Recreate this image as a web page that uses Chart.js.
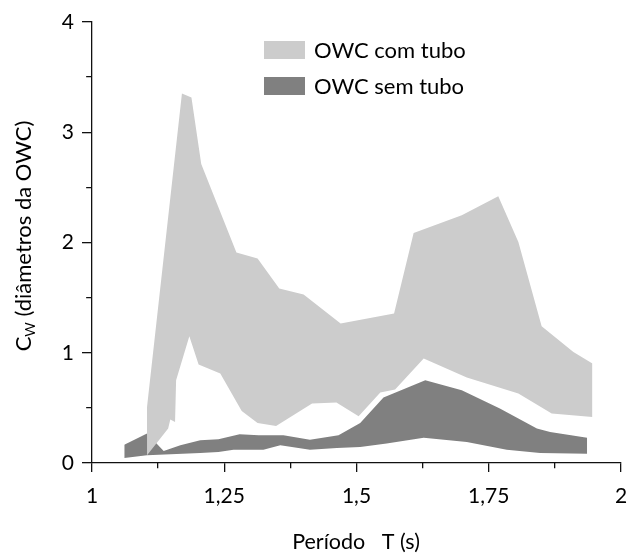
<!DOCTYPE html>
<html lang="pt">
<head>
<meta charset="utf-8">
<title>Comprimento de captura</title>
<script src="https://cdn.jsdelivr.net/npm/chart.js@4.4.1/dist/chart.umd.min.js"></script>
<style>
  html, body { margin: 0; padding: 0; background: #ffffff; }
  #wrap { width: 627px; height: 553px; }
</style>
</head>
<body>
<div id="wrap"><canvas id="chart" width="627" height="553"></canvas></div>
<script>
// Período T (s) e C_W (diâmetros da OWC) — limites de cada faixa
const periodoComSup = [1.104, 1.170, 1.188, 1.2065, 1.273, 1.313, 1.354, 1.400, 1.470, 1.571, 1.608, 1.699, 1.768, 1.806, 1.850, 1.910, 1.946];
const cwComSup      = [0.508, 3.352, 3.316, 2.711, 1.910, 1.855, 1.583, 1.528, 1.265, 1.356, 2.087, 2.248, 2.420, 2.005, 1.240, 1.007, 0.902];

const periodoComInf = [1.104, 1.144, 1.148, 1.157, 1.159, 1.184, 1.2015, 1.2425, 1.283, 1.313, 1.348, 1.416, 1.462, 1.504, 1.545, 1.573, 1.627, 1.7085, 1.806, 1.869, 1.946];
const cwComInf      = [0.070, 0.312, 0.394, 0.372, 0.750, 1.150, 0.893, 0.811, 0.472, 0.363, 0.336, 0.539, 0.548, 0.424, 0.639, 0.666, 0.947, 0.775, 0.630, 0.448, 0.417];

const periodoSemSup = [1.061, 1.104, 1.1355, 1.167, 1.2046, 1.239, 1.279, 1.315, 1.362, 1.412, 1.466, 1.507, 1.551, 1.630, 1.699, 1.771, 1.841, 1.866, 1.936];
const cwSemSup      = [0.165, 0.267, 0.109, 0.161, 0.206, 0.215, 0.260, 0.251, 0.251, 0.212, 0.251, 0.363, 0.593, 0.750, 0.660, 0.494, 0.312, 0.281, 0.230];

const periodoSemInf = [1.061, 1.104, 1.2046, 1.239, 1.2675, 1.324, 1.356, 1.412, 1.463, 1.507, 1.557, 1.627, 1.7085, 1.784, 1.847, 1.936];
const cwSemInf      = [0.045, 0.070, 0.091, 0.100, 0.121, 0.121, 0.161, 0.121, 0.136, 0.145, 0.176, 0.230, 0.190, 0.121, 0.091, 0.085];

const seriesLabels = ['OWC com tubo', 'OWC sem tubo'];
const xTicks = [1, 1.25, 1.5, 1.75, 2];
const xMinorTicks = [1.125, 1.375, 1.625, 1.875];
const yTicks = [0, 1, 2, 3, 4];
const yMinorTicks = [0.5, 1.5, 2.5, 3.5];

const COR_COM = '#cccccc';
const COR_SEM = '#808080';
const AXIS_COLOR = '#111111';
const AXIS_WIDTH = 1.3;
const FONT = 'Lato, "Open Sans", sans-serif';

const pts = (xs, ys) => xs.map((v, i) => ({ x: v, y: ys[i] }));

const edge = {
  type: 'line',
  borderWidth: 0,
  borderColor: 'rgba(0,0,0,0)',
  pointRadius: 0,
  pointHoverRadius: 0,
  tension: 0
};

// Minor ticks, axis titles (with subscript) and the legend box
const extras = {
  id: 'extras',
  afterDraw(chart) {
    const { ctx, chartArea, scales: { x, y } } = chart;
    ctx.save();
    ctx.strokeStyle = AXIS_COLOR;
    ctx.lineWidth = AXIS_WIDTH;
    const axisY = Math.round(chartArea.bottom - AXIS_WIDTH / 2) + AXIS_WIDTH / 2;
    const axisX = Math.round(chartArea.left - AXIS_WIDTH / 2) + AXIS_WIDTH / 2;
    ctx.beginPath();
    xMinorTicks.forEach(v => {
      const px = Math.round(x.getPixelForValue(v) - AXIS_WIDTH / 2) + AXIS_WIDTH / 2;
      ctx.moveTo(px, axisY);
      ctx.lineTo(px, axisY + 5.5);
    });
    yMinorTicks.forEach(v => {
      const py = Math.round(y.getPixelForValue(v) - AXIS_WIDTH / 2) + AXIS_WIDTH / 2;
      ctx.moveTo(axisX, py);
      ctx.lineTo(axisX - 5.5, py);
    });
    ctx.stroke();

    ctx.fillStyle = '#000000';
    ctx.textBaseline = 'alphabetic';

    // x axis title
    ctx.font = '21.5px ' + FONT;
    ctx.textAlign = 'center';
    ctx.fillText('Período   T (s)', (chartArea.left + chartArea.right) / 2 - 0.5, 549);

    // y axis title: C with subscript W
    const big = '22px ' + FONT;
    const small = '14px ' + FONT;
    const rest = ' (diâmetros da OWC)';
    ctx.font = big;
    const wC = ctx.measureText('C').width;
    const wRest = ctx.measureText(rest).width;
    ctx.font = small;
    const wW = ctx.measureText('W').width;
    const total = wC + wW + wRest;
    ctx.translate(31, 236);
    ctx.rotate(-Math.PI / 2);
    ctx.textAlign = 'left';
    let cx = -total / 2;
    ctx.font = big;
    ctx.fillText('C', cx, 0);
    cx += wC;
    ctx.font = small;
    ctx.fillText('W', cx, 4);
    cx += wW;
    ctx.font = big;
    ctx.fillText(rest, cx, 0);
    ctx.setTransform(1, 0, 0, 1, 0, 0);

    // legend
    const entries = chart.data.datasets.filter(d => d.label);
    ctx.font = '22px ' + FONT;
    ctx.textAlign = 'left';
    ctx.textBaseline = 'middle';
    entries.forEach((d, i) => {
      const cy = 50 + i * 36;
      ctx.fillStyle = d.backgroundColor;
      ctx.fillRect(264, cy - 9, 41, 18);
      ctx.fillStyle = '#000000';
      ctx.fillText(d.label, 314, cy + 1);
    });
    ctx.restore();
  }
};

const fmt = v => String(v).replace('.', ',');

new Chart(document.getElementById('chart'), {
  type: 'line',
  data: {
    datasets: [
      { ...edge, data: pts(periodoComSup, cwComSup), fill: false },
      { ...edge, label: seriesLabels[0], data: pts(periodoComInf, cwComInf), fill: 0, backgroundColor: COR_COM },
      { ...edge, data: pts(periodoSemSup, cwSemSup), fill: false },
      { ...edge, label: seriesLabels[1], data: pts(periodoSemInf, cwSemInf), fill: 2, backgroundColor: COR_SEM }
    ]
  },
  options: {
    responsive: false,
    animation: false,
    events: [],
    layout: { padding: { top: 22, right: 6, bottom: 0, left: 0 } },
    plugins: { legend: { display: false }, tooltip: { enabled: false } },
    scales: {
      x: {
        type: 'linear',
        min: 1,
        max: 2,
        afterBuildTicks: s => { s.ticks = xTicks.map(v => ({ value: v })); },
        afterFit: s => { s.height = 90; s.paddingLeft = 0; s.paddingRight = 0; },
        ticks: {
          callback: v => fmt(v),
          font: { family: FONT, size: 21 },
          color: '#000000',
          padding: 12,
          maxRotation: 0
        },
        grid: {
          drawOnChartArea: false,
          drawTicks: true,
          tickLength: 9,
          color: AXIS_COLOR,
          lineWidth: AXIS_WIDTH
        },
        border: { display: true, color: AXIS_COLOR, width: AXIS_WIDTH }
      },
      y: {
        type: 'linear',
        min: 0,
        max: 4,
        afterBuildTicks: s => { s.ticks = yTicks.map(v => ({ value: v })); },
        afterFit: s => { s.width = 92; s.paddingTop = 0; s.paddingBottom = 0; },
        ticks: {
          callback: v => fmt(v),
          font: { family: FONT, size: 21 },
          color: '#000000',
          padding: 8
        },
        grid: {
          drawOnChartArea: false,
          drawTicks: true,
          tickLength: 10,
          color: AXIS_COLOR,
          lineWidth: AXIS_WIDTH
        },
        border: { display: true, color: AXIS_COLOR, width: AXIS_WIDTH }
      }
    }
  },
  plugins: [extras]
});
</script>
</body>
</html>
